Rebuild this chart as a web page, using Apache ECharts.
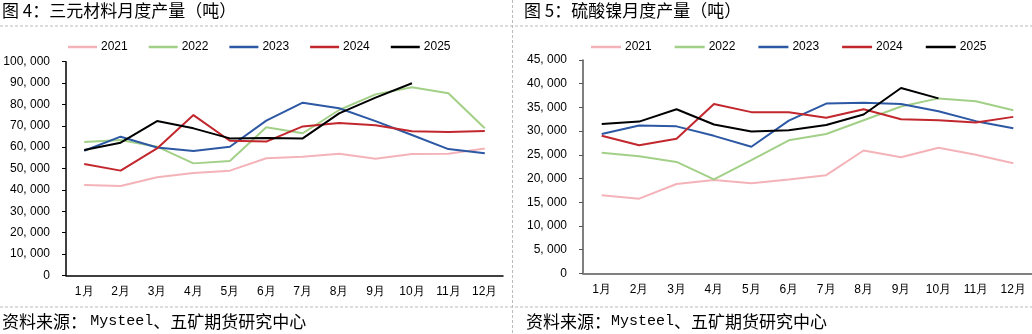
<!DOCTYPE html>
<html><head><meta charset="utf-8">
<script src="https://cdn.jsdelivr.net/npm/echarts@6/dist/echarts.min.js"></script>
<style>html,body{margin:0;padding:0;background:#fff}#c{width:1032px;height:334px}</style>
</head><body><div id="c"></div>
<script>
var months = ['1月','2月','3月','4月','5月','6月','7月','8月','9月','10月','11月','12月'];
var years = ['2021','2022','2023','2024','2025'];
var colors = ['#F4B3B8','#A3D088','#2C58A4','#C1272D','#000000'];

// 三元材料月度产量（吨）
var ncm2021 = [42300,41800,45900,47900,49000,54800,55500,56900,54600,56800,56900,59400];
var ncm2022 = [62400,63300,60200,52400,53500,69300,66500,77400,84700,88000,85200,68800];
var ncm2023 = [58300,64900,59800,58200,60200,72400,80800,78200,72200,65700,59100,57100];
var ncm2024 = [52100,49000,59400,75000,63000,62600,69700,71300,70200,67400,67100,67500];
var ncm2025 = [58700,62100,72200,68800,64100,64300,64100,75800,83200,89900];

// 硫酸镍月度产量（吨）
var ns2021 = [16450,15750,18840,19700,19000,19800,20700,25900,24500,26500,25000,23200];
var ns2022 = [25450,24700,23500,19800,23900,28050,29400,32300,35200,36900,36300,34400];
var ns2023 = [29400,31200,31000,29000,26700,32200,35800,36000,35700,34200,32100,30600];
var ns2024 = [29000,27000,28400,35700,34000,34000,32800,34600,32500,32300,31800,33000];
var ns2025 = [31500,32000,34600,31400,29900,30200,31300,33500,39100,36900];

var leftData = [ncm2021,ncm2022,ncm2023,ncm2024,ncm2025];
var rightData = [ns2021,ns2022,ns2023,ns2024,ns2025];

function fmt(v){ var s=String(v); if(v>=1000){ s = Math.floor(v/1000)+', '+String(v%1000).padStart(3,'0'); } return s; }

var font = "'Liberation Sans', Arial, sans-serif";
var series = [];
leftData.forEach(function(d,i){
  series.push({name:years[i],type:'line',xAxisIndex:0,yAxisIndex:0,data:d,symbol:'none',
    lineStyle:{width:2,color:colors[i]},itemStyle:{color:colors[i]},z:2+i});
});
rightData.forEach(function(d,i){
  series.push({name:years[i],type:'line',xAxisIndex:1,yAxisIndex:1,data:d,symbol:'none',
    lineStyle:{width:2,color:colors[i]},itemStyle:{color:colors[i]},z:2+i});
});

var srcRich = {
  c:{fontFamily:'Noto Sans CJK SC',fontSize:17,fill:'#000'},
  m:{fontFamily:'Liberation Mono',fontSize:15,fill:'#000'}
};

var chart = echarts.init(document.getElementById('c'));
chart.setOption({
  animation:false,
  backgroundColor:'#fff',
  legend:[
    {data:years,left:63,top:36,icon:'rect',itemWidth:29,itemHeight:2.5,itemGap:21,
     textStyle:{fontFamily:font,fontSize:12,color:'#000',padding:[0,0,0,-1]}},
    {data:years,left:586,top:36,icon:'rect',itemWidth:30,itemHeight:2.5,itemGap:23,
     textStyle:{fontFamily:font,fontSize:12,color:'#000',padding:[0,0,0,-1]}}
  ],
  grid:[
    {left:66,top:61.7,width:437,height:213.6,containLabel:false},
    {left:583,top:60,width:449,height:213.3,containLabel:false}
  ],
  xAxis:[
    {type:'category',gridIndex:0,data:months,boundaryGap:true,
     axisLine:{lineStyle:{color:'#000',width:1.5}},axisTick:{show:false},
     axisLabel:{fontFamily:font,fontSize:12,color:'#000',margin:10}},
    {type:'category',gridIndex:1,data:months,boundaryGap:true,
     axisLine:{lineStyle:{color:'#808080',width:2}},axisTick:{show:false},
     axisLabel:{fontFamily:font,fontSize:12,color:'#000',margin:10}}
  ],
  yAxis:[
    {type:'value',gridIndex:0,min:0,max:100000,interval:10000,
     axisLine:{show:true,lineStyle:{color:'#000',width:1.5}},
     axisTick:{show:true,length:4,lineStyle:{color:'#000'}},splitLine:{show:false},
     axisLabel:{fontFamily:font,fontSize:12,color:'#000',margin:16,formatter:fmt}},
    {type:'value',gridIndex:1,min:0,max:45000,interval:5000,
     axisLine:{show:true,lineStyle:{color:'#555',width:1.5}},
     axisTick:{show:true,length:4,lineStyle:{color:'#555'}},splitLine:{show:false},
     axisLabel:{fontFamily:font,fontSize:12,color:'#000',margin:16,formatter:fmt}}
  ],
  series:series,
  graphic:[
    {type:'text',left:2,top:2,style:{text:'图 4：三元材料月度产量（吨）',font:"17px 'Noto Sans CJK SC'",fill:'#000'}},
    {type:'text',left:524,top:2,style:{text:'图 5：硫酸镍月度产量（吨）',font:"17px 'Noto Sans CJK SC'",fill:'#000'}},
    {type:'line',shape:{x1:0,y1:26,x2:1032,y2:26},style:{stroke:'#bbb',lineWidth:1,lineDash:[3,2]}},
    {type:'line',shape:{x1:0,y1:307,x2:1032,y2:307},style:{stroke:'#bbb',lineWidth:1,lineDash:[3,2]}},
    {type:'line',shape:{x1:512.5,y1:0,x2:512.5,y2:334},style:{stroke:'#bbb',lineWidth:1,lineDash:[3,2]}},
    {type:'text',left:2,top:313,style:{text:'{c|资料来源：} {m|Mysteel}{c|、五矿期货研究中心}',rich:srcRich}},
    {type:'text',left:526,top:313,style:{text:'{c|资料来源：}{m|Mysteel}{c|、五矿期货研究中心}',rich:srcRich}}
  ]
});
</script></body></html>
